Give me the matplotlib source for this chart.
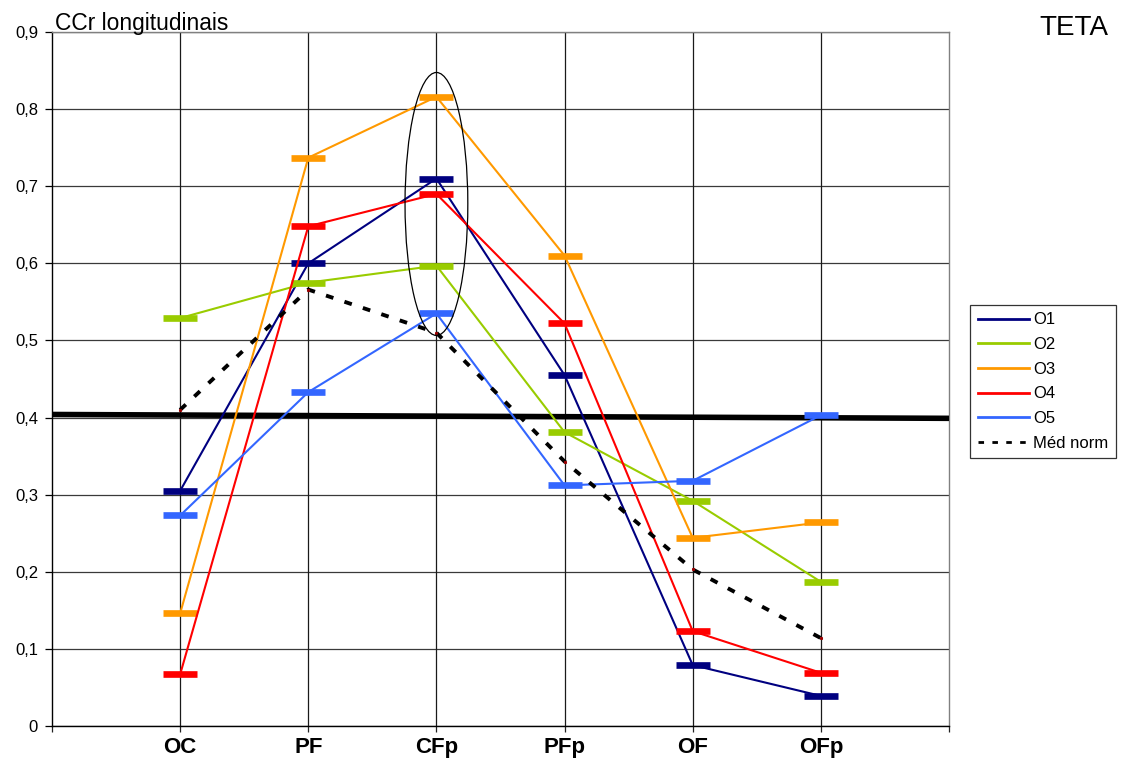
import matplotlib
matplotlib.use("Agg")
import matplotlib.pyplot as plt
from matplotlib.patches import Ellipse
from matplotlib.ticker import FuncFormatter

plt.rcParams['font.family'] = ['Liberation Sans', 'DejaVu Sans']

categories = ["OC", "PF", "CFp", "PFp", "OF", "OFp"]

o1 = [0.305, 0.600, 0.710, 0.455, 0.079, 0.039]
o2 = [0.529, 0.575, 0.597, 0.381, 0.292, 0.187]
o3 = [0.146, 0.737, 0.816, 0.610, 0.244, 0.264]
o4 = [0.067, 0.648, 0.690, 0.522, 0.123, 0.069]
o5 = [0.273, 0.433, 0.535, 0.312, 0.318, 0.403]
med_norm = [0.410, 0.566, 0.510, 0.343, 0.203, 0.114]

series_names = ["O1", "O2", "O3", "O4", "O5"]
series_colors = ["#000080", "#99CC00", "#FF9900", "#FF0000", "#3366FF"]

ref_line = [0.404, 0.399]
yticks = [0, 0.1, 0.2, 0.3, 0.4, 0.5, 0.6, 0.7, 0.8, 0.9]

fig = plt.figure(figsize=(11.21, 7.63), dpi=100)
ax = fig.add_axes([52 / 1121, 37 / 763, 897 / 1121, 694 / 763])

x = list(range(len(categories)))

ax.set_xlim(-1, len(categories))
ax.set_ylim(0, 0.9)

# grid
for yv in yticks:
    ax.axhline(yv, color="#3a3a3a", lw=0.9, zorder=1)
for xv in x:
    ax.axvline(xv, color="#1a1a1a", lw=0.9, zorder=1)

# horizontal reference line
ax.plot([-1, len(categories)], ref_line, color="black", lw=4.0, zorder=3,
        solid_capstyle="butt")

for vals, name, col in zip([o1, o2, o3, o4, o5], series_names, series_colors):
    ax.plot(x, vals, color=col, lw=1.5, marker="_", ms=25, mew=4.8,
            label=name, zorder=4)

ax.plot(x, med_norm, color="black", lw=2.8, ls=(0, (2.0, 3.0)),
        marker="s", ms=1.2, mfc="#990000", mec="#990000",
        label="Méd norm", zorder=5)

# highlight around CFp
ax.add_patch(Ellipse((2, 0.677), width=0.49, height=0.341, fill=False,
                     edgecolor="black", lw=0.9, zorder=6))

ax.set_xticks(range(-1, len(categories) + 1))
ax.set_xticklabels([""] + categories + [""], fontsize=16, fontweight="bold")
ax.tick_params(axis="x", length=4, width=0.9, pad=4, color="#222222")
ax.set_yticks(yticks)
ax.yaxis.set_major_formatter(FuncFormatter(
    lambda v, p: "0" if v == 0 else f"{v:.1f}".replace(".", ",")))
ax.tick_params(axis="y", length=5, width=0.9, labelsize=12, pad=5)

for side in ["left", "bottom"]:
    ax.spines[side].set_color("black")
    ax.spines[side].set_linewidth(1.0)
for side in ["right", "top"]:
    ax.spines[side].set_color("#808080")
    ax.spines[side].set_linewidth(1.0)

fig.text(55 / 1121, 1 - 30 / 763, "CCr longitudinais", fontsize=16.4,
         ha="left", va="baseline")
fig.text(1108 / 1121, 1 - 35 / 763, "TETA", fontsize=20,
         ha="right", va="baseline")

leg = ax.legend(loc="upper left", bbox_to_anchor=(970 / 1121, 1 - 305 / 763),
                bbox_transform=fig.transFigure, fontsize=12, frameon=True,
                fancybox=False, edgecolor="black", handlelength=3.1,
                handletextpad=0.25, borderpad=0.45, labelspacing=0.58,
                borderaxespad=0)
leg.get_frame().set_linewidth(0.9)
for h in leg.legend_handles:
    h.set_marker("")
    h.set_linewidth(2.0)

fig.savefig("out.png", dpi=100)
